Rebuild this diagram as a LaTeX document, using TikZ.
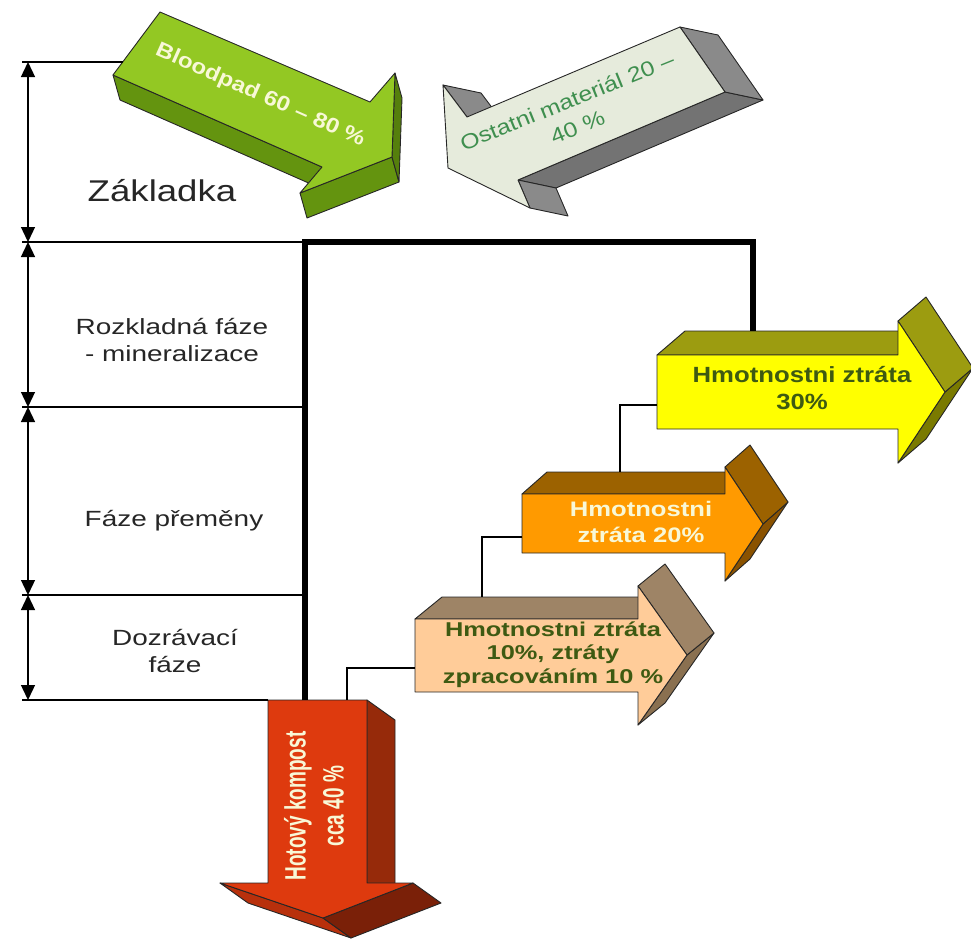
\documentclass[tikz,border=0pt]{standalone}
\usepackage{fontspec}
\usepackage{graphicx}
\setmainfont{Liberation Sans}
\usetikzlibrary{arrows.meta}
\definecolor{yellowF}{RGB}{255,255,0}
\definecolor{yellowS}{RGB}{156,156,16}
\definecolor{yellowD}{RGB}{122,122,0}
\definecolor{orangeF}{RGB}{255,154,0}
\definecolor{orangeS}{RGB}{156,98,0}
\definecolor{orangeD}{RGB}{138,82,0}
\definecolor{peachF}{RGB}{255,204,153}
\definecolor{peachS}{RGB}{158,132,102}
\definecolor{peachD}{RGB}{138,112,80}
\definecolor{redF}{RGB}{222,58,14}
\definecolor{redS}{RGB}{150,42,10}
\definecolor{redD}{RGB}{122,32,8}
\definecolor{redL}{RGB}{184,48,12}
\definecolor{greenF}{RGB}{147,200,35}
\definecolor{greenS}{RGB}{100,148,15}
\definecolor{greenD}{RGB}{85,127,12}
\definecolor{grayF}{RGB}{230,235,220}
\definecolor{grayS}{RGB}{138,138,138}
\definecolor{grayD}{RGB}{115,115,115}
\definecolor{olivetext}{RGB}{62,90,18}
\definecolor{graytext}{RGB}{63,143,79}
\definecolor{creamtext}{RGB}{248,248,215}
\newcommand{\hstr}[2]{\scalebox{#1}[1]{\begin{tabular}{@{}c@{}}#2\end{tabular}}}
\newcommand{\vstr}[2]{\scalebox{1}[#1]{\begin{tabular}{@{}c@{}}#2\end{tabular}}}
\begin{document}
\begin{tikzpicture}[x=1pt,y=-1pt,
  face/.style={draw=black!85, line width=0.9pt, line join=round},
  conn/.style={draw=black, line width=1.3pt},
  spine/.style={draw=black, line width=6.5pt, line join=miter},
  dim/.style={draw=black, line width=1.3pt,
     {Triangle[width=14pt,length=15pt]}-{Triangle[width=14pt,length=15pt]}},
  lbl/.style={text=black!85, inner sep=0pt, font=\fontsize{22}{27}\selectfont},
  txt/.style={inner sep=0pt}]
\useasboundingbox (0,0) rectangle (971,940);

% ---------- gray arrow (Ostatni material) ----------
\filldraw[face, fill=grayD] (518,180) -- (725,92) -- (763,100) -- (556,188) -- cycle;
\filldraw[face, fill=grayS] (518,180) -- (530,208) -- (568,216) -- (556,188) -- cycle;
\filldraw[face, fill=grayS] (680,27) -- (725,92) -- (763,100) -- (718,35) -- cycle;
\filldraw[face, fill=grayS] (443,85) -- (467,117) -- (505,125) -- (481,93) -- cycle;
\filldraw[face, fill=grayF] (443,85) -- (448,168) -- (530,208) -- (518,180) -- (725,92) -- (680,27) -- (467,117) -- cycle;
\node[txt, text=graytext, rotate=22, font=\fontsize{21}{28}\selectfont] (ostatni) at (573,116)
  {\hstr{1.18}{Ostatni materiál 20 –\\40 \%}};

% ---------- green arrow (Bloodpad) ----------
\filldraw[face, fill=greenS] (113,75) -- (322,167) -- (329,192) -- (120,100) -- cycle;
\filldraw[face, fill=greenS] (300,193) -- (392,157) -- (399,182) -- (307,218) -- cycle;
\filldraw[face, fill=greenD] (395,73) -- (392,157) -- (399,182) -- (402,98) -- cycle;
\filldraw[face, fill=greenF] (160,12) -- (370,102) -- (395,73) -- (392,157) -- (300,193) -- (322,167) -- (113,75) -- cycle;
\coordinate (gL) at (123,62);
\node[txt, text=creamtext, rotate=-24, font=\bfseries\fontsize{21}{25}\selectfont] (bio) at (260,96)
  {\hstr{1.15}{Bloodpad 60 – 80 \%}};

% ---------- yellow arrow ----------
\filldraw[face, fill=yellowD] (945,392) -- (898,463) -- (926,439) -- (973,368) -- cycle;
\filldraw[face, fill=yellowS] (657,355) -- (898,355) -- (926,331) -- (685,331) -- cycle;
\filldraw[face, fill=yellowS] (898,321) -- (945,392) -- (973,368) -- (926,297) -- cycle;
\filldraw[face, fill=yellowF] (657,355) -- (898,355) -- (898,321) -- (945,392) -- (898,463) -- (898,429) -- (657,429) -- cycle;
\coordinate (yT) at (753,331);
\coordinate (yL) at (657,405);
\node[txt, text=olivetext, font=\bfseries\fontsize{22}{27}\selectfont] (y30) at (802,391)
  {\hstr{1.17}{Hmotnostni ztráta\\30\%}};

% ---------- orange arrow ----------
\filldraw[face, fill=orangeD] (763,524) -- (725,581) -- (750,559) -- (788,502) -- cycle;
\filldraw[face, fill=orangeS] (522,494) -- (725,494) -- (750,472) -- (547,472) -- cycle;
\filldraw[face, fill=orangeS] (725,467) -- (763,524) -- (788,502) -- (750,445) -- cycle;
\filldraw[face, fill=orangeF] (522,494) -- (725,494) -- (725,467) -- (763,524) -- (725,581) -- (725,553) -- (522,553) -- cycle;
\coordinate (oT) at (620,472);
\coordinate (oL) at (522,537);
\node[txt, text=creamtext, font=\bfseries\fontsize{21}{26}\selectfont] (o20) at (641,524)
  {\hstr{1.22}{Hmotnostni\\ztráta 20\%}};

% ---------- peach arrow ----------
\filldraw[face, fill=peachD] (687,655) -- (638,725) -- (665,703) -- (714,633) -- cycle;
\filldraw[face, fill=peachS] (415,619) -- (638,619) -- (665,597) -- (442,597) -- cycle;
\filldraw[face, fill=peachS] (638,586) -- (687,655) -- (714,633) -- (665,564) -- cycle;
\filldraw[face, fill=peachF] (415,619) -- (638,619) -- (638,586) -- (687,655) -- (638,725) -- (638,692) -- (415,692) -- cycle;
\coordinate (pT) at (482,597);
\coordinate (pL) at (415,668);
\node[txt, text=olivetext, font=\bfseries\fontsize{20}{23.5}\selectfont] (p10) at (553,655)
  {\hstr{1.27}{Hmotnostni ztráta\\10\%, ztráty\\zpracováním 10 \%}};

% ---------- red arrow ----------
\filldraw[face, fill=redS] (367,700) -- (395,720) -- (395,903) -- (367,883) -- cycle;
\filldraw[face, fill=redL] (220,883) -- (323,918) -- (351,938) -- (248,903) -- cycle;
\filldraw[face, fill=redD] (413,883) -- (441,903) -- (351,938) -- (323,918) -- cycle;
\filldraw[face, fill=redF] (268,700) -- (367,700) -- (367,883) -- (413,883) -- (323,918) -- (220,883) -- (268,883) -- cycle;
\coordinate (rT) at (347,700);
\coordinate (rL) at (268,700);
\node[txt, text=creamtext, rotate=90, font=\bfseries\fontsize{19}{24.5}\selectfont] (kompost) at (317,806)
  {\vstr{1.55}{Hotový kompost\\cca 40 \%}};

% ---------- connectors ----------
\coordinate (spB) at (305,700);
\coordinate (spC) at (305,242);
\coordinate (spR) at (753,242);
\draw[spine] (spB) -- (spC) -- (spR) -- (yT);
\draw[conn] (yL) -| (oT);
\draw[conn] (oL) -| (pT);
\draw[conn] (pL) -| (rT);

% ---------- left scale ----------
\coordinate (h0) at (22,62);
\coordinate (h1) at (22,242);
\coordinate (h2) at (22,407);
\coordinate (h3) at (22,595);
\coordinate (h4) at (22,700);
\coordinate (a0) at (28,62);
\coordinate (a1) at (28,242);
\coordinate (a2) at (28,407);
\coordinate (a3) at (28,595);
\coordinate (a4) at (28,700);
\coordinate (s2) at (305,407);
\coordinate (s3) at (305,595);
\draw[conn, line width=1.2pt] (h0) -- (gL);
\draw[conn, line width=1.2pt] (h1) -- (spC);
\draw[conn, line width=1.2pt] (h2) -- (s2);
\draw[conn, line width=1.2pt] (h3) -- (s3);
\draw[conn, line width=1.2pt] (h4) -- (rL);
\draw[dim] (a0) -- (a1);
\draw[dim] (a1) -- (a2);
\draw[dim] (a2) -- (a3);
\draw[dim] (a3) -- (a4);

\node[lbl, font=\fontsize{30}{34}\selectfont] (zakladka) at (162,195) {\hstr{1.22}{Základka}};
\node[lbl] (rozklad) at (172,343) {\hstr{1.27}{Rozkladná fáze\\- mineralizace}};
\node[lbl] (premena) at (174,521) {\hstr{1.27}{Fáze přeměny}};
\node[lbl] (dozrav) at (175,654) {\hstr{1.27}{Dozrávací\\fáze}};
\end{tikzpicture}
\end{document}
